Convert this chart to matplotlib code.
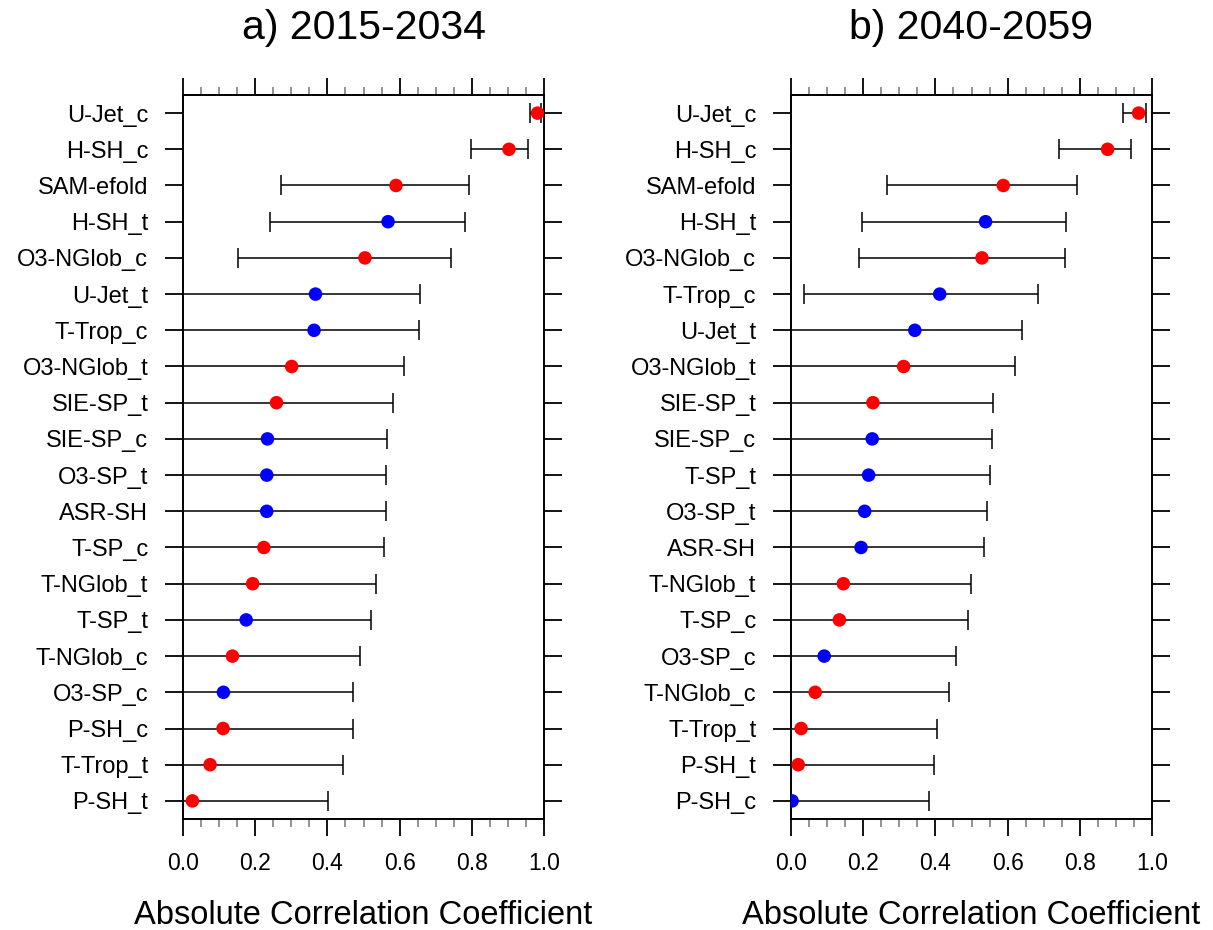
import matplotlib
matplotlib.use("Agg")
import matplotlib.pyplot as plt
import numpy as np
from matplotlib.ticker import MultipleLocator

plt.rcParams["font.family"] = ["Liberation Sans", "DejaVu Sans"]

# panel a) 2015-2034, listed top to bottom
labels_a = ["U-Jet_c", "H-SH_c", "SAM-efold", "H-SH_t", "O3-NGlob_c", "U-Jet_t",
            "T-Trop_c", "O3-NGlob_t", "SIE-SP_t", "SIE-SP_c", "O3-SP_t", "ASR-SH",
            "T-SP_c", "T-NGlob_t", "T-SP_t", "T-NGlob_c", "O3-SP_c", "P-SH_c",
            "T-Trop_t", "P-SH_t"]
corr_a = [0.982, 0.903, 0.590, 0.568, 0.504, 0.367, 0.363, 0.301, 0.259, 0.234,
          0.232, 0.232, 0.224, 0.193, 0.175, 0.137, 0.112, 0.111, 0.075, 0.026]
low_a = [0.962, 0.798, 0.272, 0.240, 0.152, -0.02, -0.02, -0.09, -0.13, -0.16,
         -0.17, -0.17, -0.17, -0.20, -0.22, -0.25, -0.28, -0.28, -0.31, -0.35]
high_a = [0.993, 0.957, 0.793, 0.780, 0.742, 0.656, 0.653, 0.612, 0.582, 0.564,
          0.562, 0.562, 0.557, 0.534, 0.520, 0.491, 0.471, 0.471, 0.442, 0.403]
color_a = ["r", "r", "r", "b", "r", "b", "b", "r", "r", "b",
           "b", "b", "r", "r", "b", "r", "b", "r", "r", "r"]

# panel b) 2040-2059
labels_b = ["U-Jet_c", "H-SH_c", "SAM-efold", "H-SH_t", "O3-NGlob_c", "T-Trop_c",
            "U-Jet_t", "O3-NGlob_t", "SIE-SP_t", "SIE-SP_c", "T-SP_t", "O3-SP_t",
            "ASR-SH", "T-NGlob_t", "T-SP_c", "O3-SP_c", "T-NGlob_c", "T-Trop_t",
            "P-SH_t", "P-SH_c"]
corr_b = [0.963, 0.877, 0.588, 0.539, 0.529, 0.412, 0.343, 0.312, 0.227, 0.225,
          0.215, 0.204, 0.194, 0.145, 0.134, 0.092, 0.067, 0.028, 0.020, 0.003]
low_b = [0.921, 0.743, 0.267, 0.198, 0.187, 0.037, -0.06, -0.09, -0.17, -0.17,
         -0.18, -0.19, -0.20, -0.25, -0.26, -0.30, -0.32, -0.36, -0.37, -0.39]
high_b = [0.984, 0.942, 0.791, 0.762, 0.758, 0.685, 0.639, 0.620, 0.559, 0.557,
          0.551, 0.542, 0.535, 0.498, 0.491, 0.457, 0.437, 0.404, 0.397, 0.381]
color_b = ["r", "r", "r", "b", "r", "b", "b", "r", "r", "b",
           "b", "b", "b", "r", "r", "b", "r", "r", "r", "b"]

xticks = [0.0, 0.2, 0.4, 0.6, 0.8, 1.0]
xticklabels = ["0.0", "0.2", "0.4", "0.6", "0.8", "1.0"]

cmap = {"r": "#ff0000", "b": "#0000ff"}


def draw_panel(ax, title, labels, corr, low, high, colors):
    n = len(labels)
    y = np.arange(n)[::-1]
    corr = np.array(corr)
    xerr = [corr - np.array(low), np.array(high) - corr]
    ax.errorbar(corr, y, xerr=xerr, fmt="none", ecolor="black",
                elinewidth=1.1, capsize=7, capthick=1.1, zorder=2)
    ax.scatter(corr, y, c=[cmap[c] for c in colors], s=95, zorder=3,
               edgecolors="none")

    ax.set_xlim(0, 1)
    ax.set_ylim(-0.5, n - 0.5)
    ax.set_yticks(y)
    ax.set_yticklabels(labels)
    ax.set_xticks(xticks)
    ax.set_xticklabels(xticklabels)
    ax.xaxis.set_minor_locator(MultipleLocator(0.05))

    ax.tick_params(axis="x", which="major", direction="out", length=12, width=1.3,
                   top=True, bottom=True, labelsize=16.5, pad=12)
    ax.tick_params(axis="x", which="minor", direction="out", length=6, width=1.1,
                   top=True, bottom=True, color="#777777")
    ax.tick_params(axis="y", which="major", direction="out", length=13, width=1.3,
                   left=True, right=True, labelsize=17, pad=12)
    for sp in ax.spines.values():
        sp.set_linewidth(1.4)

    ax.set_title(title, fontsize=29.5, pad=40)
    ax.set_xlabel("Absolute Correlation Coefficient", fontsize=23.5, labelpad=18)


fig = plt.figure(figsize=(12.13, 9.3), dpi=100)
ax1 = fig.add_axes([183 / 1213, 1 - 819 / 930, 361 / 1213, 724 / 930])
ax2 = fig.add_axes([791 / 1213, 1 - 819 / 930, 361 / 1213, 724 / 930])

draw_panel(ax1, "a) 2015-2034", labels_a, corr_a, low_a, high_a, color_a)
draw_panel(ax2, "b) 2040-2059", labels_b, corr_b, low_b, high_b, color_b)

fig.savefig("out.png", dpi=100)
